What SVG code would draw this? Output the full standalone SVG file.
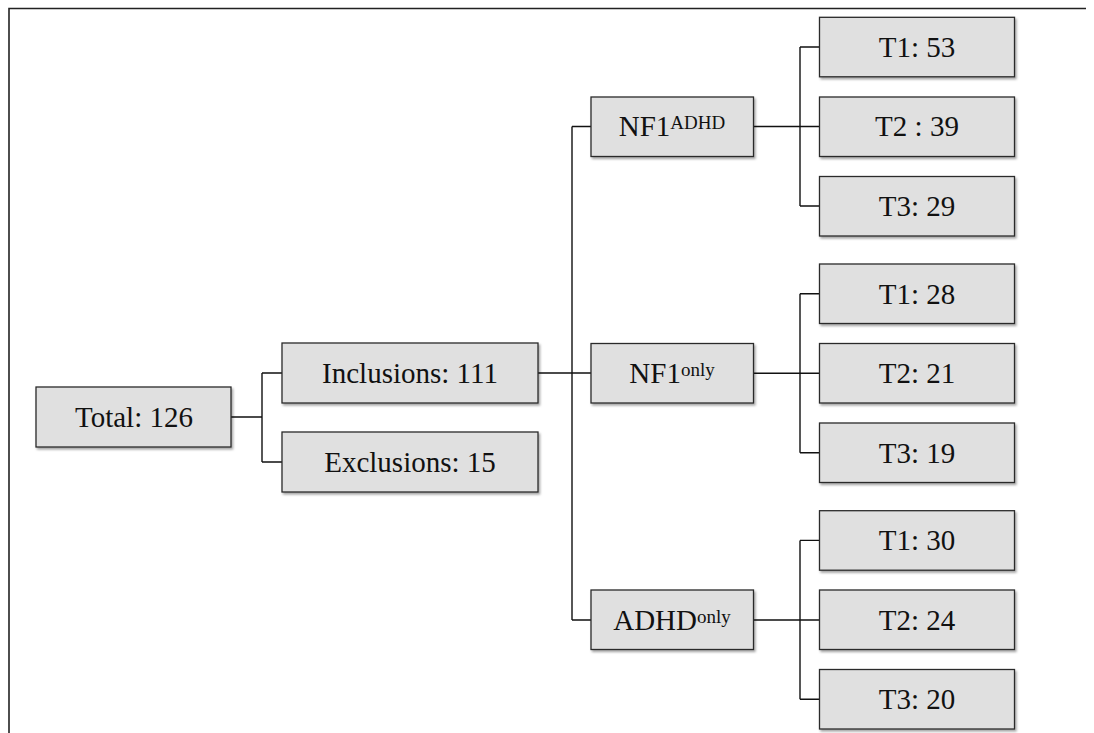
<svg xmlns="http://www.w3.org/2000/svg" width="1094" height="733" viewBox="0 0 1094 733">
<style>
.box{fill:#e0e0e0;stroke:#2b2b2b;stroke-width:1.3;filter:url(#sh)}
.lbl{font-family:"Liberation Serif","Times New Roman",serif;font-size:29px;fill:#111;text-anchor:middle}
.sup{font-size:19px}
.con{fill:none;stroke:#111;stroke-width:1.4}
.frame{fill:none;stroke:#222;stroke-width:1.6}
</style>
<defs>
<filter id="sh" x="-10%" y="-10%" width="125%" height="140%">
<feDropShadow dx="1.5" dy="2" stdDeviation="1" flood-color="#000" flood-opacity="0.35"/>
</filter>
</defs>
<rect width="1094" height="733" fill="#fff"/>
<path class="frame" d="M9 733 V8.5 H1086"/>
<g id="connectors" class="con">
<path d="M231 417 H262 M262 373 V462 M262 373 H282 M262 462 H282"/>
<path d="M538 373 H591 M572 126.5 V620 M572 126.5 H591 M572 620 H591"/>
<path d="M753.5 126.5 H819.5 M800 47 V206 M800 47 H819.5 M800 206 H819.5"/>
<path d="M753.5 373.3 H819.5 M800 293.7 V452.7 M800 293.7 H819.5 M800 452.7 H819.5"/>
<path d="M753.5 620 H819.5 M800 540.4 V699.3 M800 540.4 H819.5 M800 699.3 H819.5"/>
</g>
<g id="n-total"><rect class="box" x="36" y="387" width="195" height="60"/><text class="lbl" x="134" y="427">Total: 126</text></g>
<g id="n-inclusions"><rect class="box" x="282" y="343" width="256" height="60"/><text class="lbl" x="410" y="383">Inclusions: 111</text></g>
<g id="n-exclusions"><rect class="box" x="282" y="432" width="256" height="60"/><text class="lbl" x="410" y="472">Exclusions: 15</text></g>
<g id="n-nf1adhd"><rect class="box" x="591" y="97" width="162.5" height="59.5"/><text class="lbl" x="672" y="136">NF1<tspan class="sup" dy="-7.5">ADHD</tspan></text></g>
<g id="n-nf1only"><rect class="box" x="591" y="343.5" width="162.5" height="59.5"/><text class="lbl" x="672" y="383">NF1<tspan class="sup" dy="-7.5">only</tspan></text></g>
<g id="n-adhdonly"><rect class="box" x="591" y="590" width="162.5" height="59.5"/><text class="lbl" x="672" y="630">ADHD<tspan class="sup" dy="-7.5">only</tspan></text></g>
<g id="n-a-t1"><rect class="box" x="819.5" y="17.3" width="195" height="59.5"/><text class="lbl" x="917" y="57">T1: 53</text></g>
<g id="n-a-t2"><rect class="box" x="819.5" y="97" width="195" height="59.5"/><text class="lbl" x="917" y="136">T2 : 39</text></g>
<g id="n-a-t3"><rect class="box" x="819.5" y="176.5" width="195" height="59.5"/><text class="lbl" x="917" y="216">T3: 29</text></g>
<g id="n-b-t1"><rect class="box" x="819.5" y="264" width="195" height="59.5"/><text class="lbl" x="917" y="303.5">T1: 28</text></g>
<g id="n-b-t2"><rect class="box" x="819.5" y="343.5" width="195" height="59.5"/><text class="lbl" x="917" y="383">T2: 21</text></g>
<g id="n-b-t3"><rect class="box" x="819.5" y="423" width="195" height="59.5"/><text class="lbl" x="917" y="462.5">T3: 19</text></g>
<g id="n-c-t1"><rect class="box" x="819.5" y="510.7" width="195" height="59.5"/><text class="lbl" x="917" y="550">T1: 30</text></g>
<g id="n-c-t2"><rect class="box" x="819.5" y="590" width="195" height="59.5"/><text class="lbl" x="917" y="630">T2: 24</text></g>
<g id="n-c-t3"><rect class="box" x="819.5" y="669.5" width="195" height="59.5"/><text class="lbl" x="917" y="709">T3: 20</text></g>
</svg>
